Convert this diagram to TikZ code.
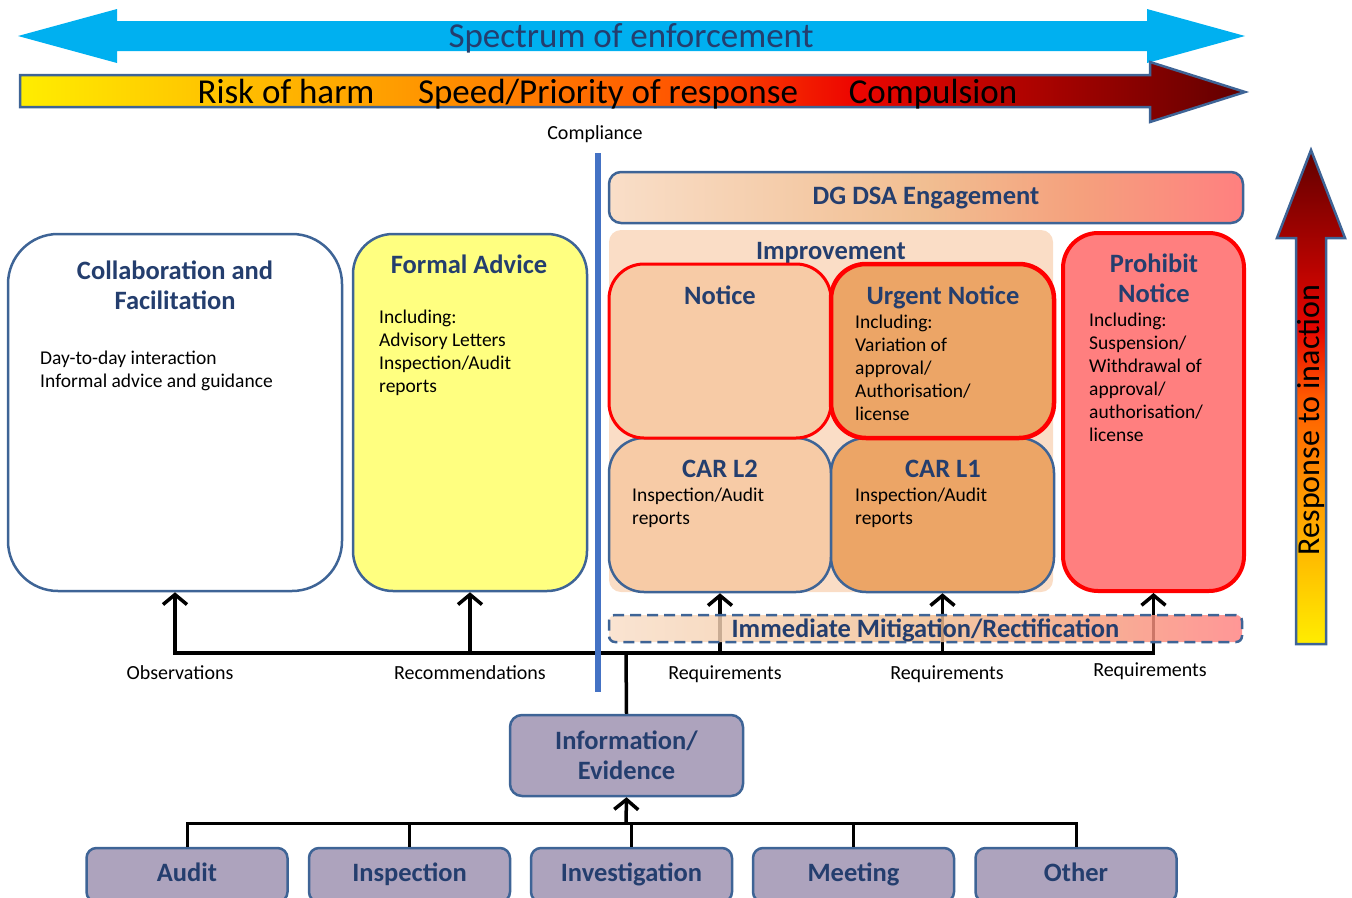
\documentclass[tikz,border=0pt]{standalone}
\usepackage{fontspec}
\setmainfont{Carlito}
\usetikzlibrary{arrows.meta}

\definecolor{navy}{RGB}{36,62,110}
\definecolor{edge}{RGB}{62,100,150}
\definecolor{spec}{RGB}{0,176,240}
\definecolor{compline}{RGB}{68,114,196}
\definecolor{improvebg}{RGB}{250,221,198}
\definecolor{peach}{RGB}{247,203,166}
\definecolor{amber}{RGB}{236,165,102}
\definecolor{salmon}{RGB}{255,127,127}
\definecolor{lemon}{RGB}{255,255,128}
\definecolor{lilac}{RGB}{173,163,189}

\pgfdeclarehorizontalshading{riskshade}{100bp}{rgb(0bp)=(1,0.93,0); rgb(25bp)=(1,0.93,0); rgb(40bp)=(1,0.62,0); rgb(52bp)=(1,0.33,0); rgb(59bp)=(0.93,0.02,0); rgb(75bp)=(0.38,0,0); rgb(100bp)=(0.38,0,0)}
\pgfdeclareverticalshading{inactshade}{100bp}{rgb(0bp)=(1,0.93,0); rgb(25bp)=(1,0.93,0); rgb(40bp)=(1,0.6,0); rgb(50bp)=(1,0.35,0); rgb(57bp)=(0.9,0.02,0); rgb(75bp)=(0.38,0,0); rgb(100bp)=(0.38,0,0)}
\pgfdeclarehorizontalshading{dgshade}{100bp}{rgb(0bp)=(0.976,0.871,0.784); rgb(25bp)=(0.976,0.871,0.784); rgb(50bp)=(0.945,0.745,0.57); rgb(62bp)=(0.96,0.63,0.49); rgb(75bp)=(1,0.5,0.5); rgb(100bp)=(1,0.5,0.5)}

\tikzset{
  card/.style={draw=edge, line width=2.5pt, inner sep=0pt, rounded corners=#1},
  card/.default=35pt,
  heads/.style={font=\bfseries\fontsize{26.5}{30}\selectfont, text=navy, align=center},
  head/.style={heads, text height=18pt, text depth=5pt},
  body/.style={font=\fontsize{19.5}{23}\selectfont, align=left, anchor=north west, inner sep=0pt},
  tag/.style={font=\fontsize{20}{24}\selectfont, text height=15pt, text depth=5pt},
  big/.style={font=\fontsize{35}{40}\selectfont, anchor=base},
  link/.style={->, >={Straight Barb[length=10pt,width=24pt]}, line width=3.5pt},
  tree/.style={line width=3pt}
}

\begin{document}
\begin{tikzpicture}[x=1pt,y=-1pt]
\useasboundingbox (0,0) rectangle (1352,897);

\fill[spec] (18,36) -- (117,9) -- (117,21) -- (1147,21) -- (1147,9) -- (1245,36)
  -- (1147,63) -- (1147,51) -- (117,51) -- (117,63) -- cycle;
\node[big, text=navy] (spectrum) at (631,47) {Spectrum of enforcement};

\shadedraw[shading=riskshade, draw=edge, line width=2.5pt] (20,75) -- (1150,75) -- (1150,62)
  -- (1245,92) -- (1150,122) -- (1150,107) -- (20,107) -- cycle;
\node[big] (risk) at (286,103) {Risk of harm};
\node[big] (speed) at (608,103) {Speed/Priority of response};
\node[big] (compulsion) at (933,103) {Compulsion};

\shadedraw[shading=inactshade, draw=edge, line width=2.5pt] (1296,644) -- (1296,238) -- (1277,238)
  -- (1311,150) -- (1345,238) -- (1326,238) -- (1326,644) -- cycle;
\node[font=\fontsize{32}{38}\selectfont, rotate=90, text height=22pt, text depth=7pt] (inaction) at (1312,420) {Response to inaction};

\node[tag] (compliance) at (595,134.5) {Compliance};

\node[card=12pt, shading=dgshade, minimum width=634pt, minimum height=51pt] (dgdsa) at (926,197.5) {};
\node[head] (dgtitle) at (926,198) {DG DSA Engagement};

\node[fill=improvebg, rounded corners=12pt, minimum width=444pt, minimum height=362pt] (improve) at (831,411) {};
\node[head] (imptitle) at (831,253) {Improvement};

\node[card, fill=peach, minimum width=222pt, minimum height=154pt] (car2) at (720,515) {};
\node[card, fill=amber, minimum width=223pt, minimum height=154pt] (car1) at (942.5,515) {};
\node[card, draw=red, fill=peach, line width=3pt, minimum width=222pt, minimum height=174pt] (notice) at (720,351) {};
\node[card, draw=red, fill=amber, line width=4.5pt, minimum width=223pt, minimum height=174pt] (urgent) at (942.5,351) {};

\node[head] (noticetitle) at (720,298) {Notice};
\node[head] (urgenttitle) at (943,298) {Urgent Notice};
\node[body] (urgenttext) at (855,315) {Including:\\Variation of\\approval/\\Authorisation/\\license};
\node[head] (car2title) at (720,471) {CAR L2};
\node[body] (car2text) at (632,488) {Inspection/Audit\\reports};
\node[head] (car1title) at (943,471) {CAR L1};
\node[body] (car1text) at (855,488) {Inspection/Audit\\reports};

\node[card, draw=red, fill=salmon, line width=4pt, minimum width=181pt, minimum height=358pt] (prohibit) at (1153.5,412) {};
\node[heads] (prohibittitle) at (1154,278) {Prohibit\\Notice};
\node[body] (prohibittext) at (1089,313) {Including:\\Suspension/\\Withdrawal of\\approval/\\authorisation/\\license};

\node[card=50pt, fill=white, minimum width=334pt, minimum height=357pt] (collab) at (175,412.5) {};
\node[heads] (collabtitle) at (175,285) {Collaboration and\\Facilitation};
\node[body] (collabtext) at (40,351) {Day-to-day interaction\\Informal advice and guidance};

\node[card=40pt, fill=lemon, minimum width=234pt, minimum height=357pt] (formal) at (470,412.5) {};
\node[head] (formaltitle) at (469,267) {Formal Advice};
\node[body] (formaltext) at (379,310) {Including:\\Advisory Letters\\Inspection/Audit\\reports};

\node[card=12pt, fill=lilac, minimum width=233pt, minimum height=81pt, heads] (info) at (626.5,755.5) {Information/\\Evidence};

\node[card=10pt, fill=lilac, minimum width=201pt, minimum height=54pt, head] (audit) at (187,875) {Audit};
\node[card=10pt, fill=lilac, minimum width=201pt, minimum height=54pt, head] (inspection) at (409.5,875) {Inspection};
\node[card=10pt, fill=lilac, minimum width=201pt, minimum height=54pt, head] (investigation) at (631.5,875) {Investigation};
\node[card=10pt, fill=lilac, minimum width=201pt, minimum height=54pt, head] (meeting) at (853.5,875) {Meeting};
\node[card=10pt, fill=lilac, minimum width=201pt, minimum height=54pt, head] (other) at (1076,875) {Other};

\coordinate (hub) at (626,653);
\coordinate (root) at (626,823);

\draw[line width=3.5pt] (info.north) -- (hub);

\draw[link] (hub) -| (collab.south);

\draw[link] (hub) -| (formal.south);

\draw[link] (hub) -| (car2.south);

\draw[link] (hub) -| (car1.south);

\draw[link] (hub) -| (prohibit.south);

\draw[tree] (audit.north) |- (root);

\draw[tree] (inspection.north) |- (root);

\draw[tree] (investigation.north) |- (root);

\draw[tree] (meeting.north) |- (root);

\draw[tree] (other.north) |- (root);

\draw[link] (root) -- (info.south);

\draw[line width=6pt, compline] (598,153) -- (598,692);

\node[card=6pt, shading=dgshade, fill opacity=0.82, text opacity=1, dash pattern=on 11pt off 6pt, minimum width=633pt, minimum height=27pt, head, text depth=0pt] (mitigation) at (925.5,628.5) {Immediate Mitigation/Rectification};

\node[tag] (obs) at (180,674.5) {Observations};
\node[tag] (rec) at (470,674.5) {Recommendations};
\node[tag] (req1) at (725,674.5) {Requirements};
\node[tag] (req2) at (947,674.5) {Requirements};
\node[tag] (req3) at (1150,671.5) {Requirements};
\end{tikzpicture}
\end{document}
